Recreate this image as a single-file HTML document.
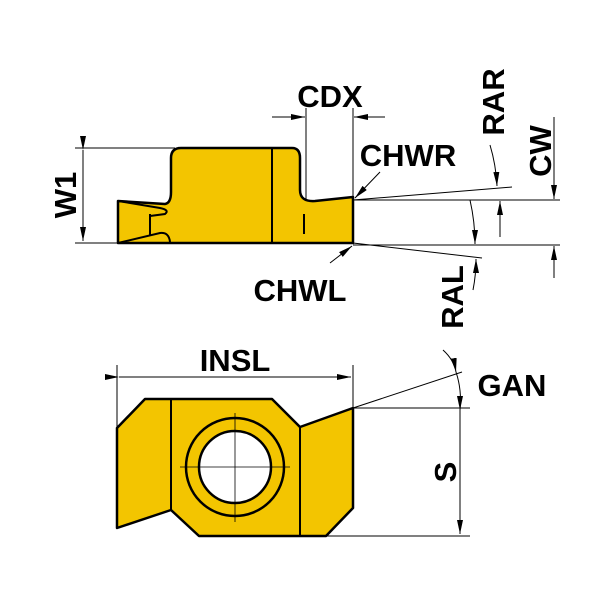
<!DOCTYPE html>
<html><head><style>body{margin:0;background:#fff}</style></head><body>
<svg width="600" height="600" viewBox="0 0 600 600" xmlns="http://www.w3.org/2000/svg" font-family="Liberation Sans, sans-serif" font-weight="bold">
<defs>
<marker id="a" markerWidth="14" markerHeight="6" refX="14" refY="3" orient="auto" markerUnits="userSpaceOnUse"><path d="M0,0 L14,3 L0,6 z" fill="#000"/></marker>
</defs>
<g stroke="#000" stroke-width="1" fill="none">
<line x1="75" y1="148" x2="175" y2="148"/>
<line x1="75" y1="243" x2="118" y2="243"/>
<line x1="83" y1="150" x2="83" y2="241" marker-start="url(#a)" marker-end="url(#a)"/>
<line x1="306" y1="108" x2="306" y2="200"/>
<line x1="353" y1="108" x2="353" y2="200"/>
<line x1="272" y1="117" x2="305" y2="117" marker-end="url(#a)"/>
<line x1="385" y1="117" x2="354" y2="117" marker-end="url(#a)"/>
<line x1="353" y1="200" x2="560" y2="200"/>
<line x1="353" y1="245" x2="560" y2="245"/>
<line x1="554" y1="117" x2="554" y2="199" marker-end="url(#a)"/>
<line x1="554" y1="278" x2="554" y2="246" marker-end="url(#a)"/>
<line x1="353" y1="200" x2="512" y2="187"/>
<path d="M490,145 Q496,165 497,186" marker-end="url(#a)"/>
<line x1="500" y1="237" x2="500" y2="201" marker-end="url(#a)"/>
<line x1="353" y1="243" x2="482" y2="258"/>
<path d="M470,200 Q475,222 475,244" marker-end="url(#a)"/>
<path d="M473,290 Q476,275 476,259" marker-end="url(#a)"/>
<line x1="380" y1="172" x2="355" y2="198" marker-end="url(#a)"/>
<line x1="330" y1="263" x2="352" y2="246" marker-end="url(#a)"/>
<line x1="117" y1="365" x2="117" y2="428"/>
<line x1="353" y1="365" x2="353" y2="408"/>
<line x1="119" y1="377" x2="351" y2="377" marker-start="url(#a)" marker-end="url(#a)"/>
<line x1="353" y1="408" x2="470" y2="408"/>
<line x1="326" y1="536" x2="470" y2="536"/>
<line x1="460" y1="410" x2="460" y2="534" marker-start="url(#a)" marker-end="url(#a)"/>
<line x1="353" y1="408" x2="462" y2="372"/>
<path d="M443,350 Q454,360 456,372" marker-end="url(#a)"/>
<path d="M456,372 Q462,390 460,410"/>
</g>
<g stroke="#000" stroke-width="2.5" fill="#f3c500" stroke-linejoin="round">
<path d="M118,201 L165,204 Q171,203 171,192 L171,158 Q171,148 181,148 L292,148 Q300,148 300,158 L300,190 Q300,202 315,201 L353,197 L353,243 L118,243 Z"/>
</g>
<g stroke="#000" stroke-width="2" fill="none">
<path d="M118,201 L160,208 Q170,210 165,214 L150,216"/>
<path d="M118,243 L160,233 Q169,232 170,242"/>
<line x1="150" y1="214" x2="150" y2="235"/>
<line x1="272" y1="148" x2="272" y2="243"/>
<line x1="304" y1="214" x2="304" y2="234"/>
</g>
<g stroke="#000" stroke-width="2.5" fill="#f3c500" stroke-linejoin="round">
<path d="M117,428 L145,399 L272,399 L300,427 L353,408 L353,508 L326,536 L199,536 L171,510 L117,528 Z"/>
<circle cx="235" cy="467" r="49"/>
<circle cx="235" cy="467" r="36" fill="#fff"/>
</g>
<g stroke="#000" stroke-width="2" fill="none">
<line x1="171" y1="399" x2="171" y2="510"/>
<line x1="300" y1="427" x2="300" y2="536"/>
</g>
<g stroke="#000" stroke-width="0.8">
<line x1="180" y1="467" x2="290" y2="467"/>
<line x1="235" y1="413" x2="235" y2="522"/>
</g>
<g font-size="31" fill="#000">
<text x="330" y="107" text-anchor="middle">CDX</text>
<text x="408" y="166" text-anchor="middle">CHWR</text>
<text x="300" y="301" text-anchor="middle">CHWL</text>
<text x="235" y="371" text-anchor="middle">INSL</text>
<text x="512" y="396" text-anchor="middle">GAN</text>
<text transform="translate(76,195) rotate(-90)" text-anchor="middle">W1</text>
<text transform="translate(504,102) rotate(-90)" text-anchor="middle">RAR</text>
<text transform="translate(551,151) rotate(-90)" text-anchor="middle">CW</text>
<text transform="translate(463,297) rotate(-90)" text-anchor="middle">RAL</text>
<text transform="translate(456,472) rotate(-90)" text-anchor="middle">S</text>
</g>
</svg>
</body></html>
